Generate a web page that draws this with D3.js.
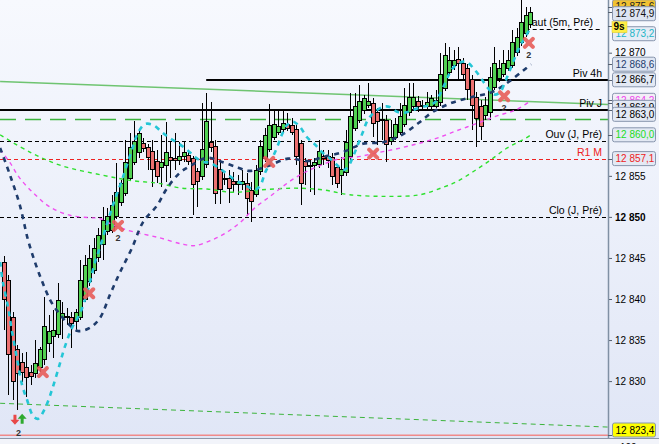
<!DOCTYPE html>
<html><head><meta charset="utf-8">
<script src="https://cdn.jsdelivr.net/npm/d3@7"></script>
<style>html,body{margin:0;padding:0;overflow:hidden;background:#fff}svg{display:block}</style>
</head><body><svg id="c" width="659" height="444"></svg>
<script>
// ---------- DATA ----------
const candleOpen = [12844.5,12842.3,12837.8,12833.9,12832.3,12831.7,12831.1,12830.9,12831.6,12832.6,12834.6,12835.4,12835.7,12837.7,12837.9,12837.8,12837.2,12837.8,12840.0,12842.1,12843.5,12845.0,12846.6,12848.2,12848.4,12850.1,12851.7,12852.9,12854.7,12856.6,12857.9,12859.0,12858.5,12858.0,12856.8,12856.0,12856.2,12857.2,12857.1,12856.9,12857.3,12857.5,12857.1,12855.5,12854.9,12856.4,12859.1,12858.6,12855.8,12854.5,12854.7,12854.3,12853.9,12854.0,12854.1,12853.2,12852.7,12855.5,12857.1,12858.2,12859.7,12860.3,12860.6,12861.2,12861.1,12860.6,12859.0,12856.7,12856.3,12856.2,12856.4,12857.4,12857.3,12857.2,12856.0,12855.1,12855.4,12857.3,12860.8,12861.8,12862.9,12863.6,12863.8,12862.7,12861.9,12861.8,12859.2,12859.7,12860.3,12861.3,12862.7,12863.4,12864.1,12863.4,12863.4,12863.4,12863.5,12863.9,12865.7,12867.6,12868.4,12869.2,12868.7,12868.1,12866.7,12864.6,12863.5,12862.3,12862.7,12865.8,12866.8,12867.4,12868.1,12868.5,12870.0,12871.2,12872.3,12873.4];
const candleHigh = [12845.2,12842.9,12838.4,12834.4,12833.4,12833.5,12832.0,12835.0,12834.2,12840.2,12838.1,12838.7,12842.0,12839.6,12838.9,12838.4,12838.8,12844.8,12845.4,12846.6,12847.4,12848.6,12851.2,12851.1,12852.7,12856.6,12854.5,12859.4,12860.2,12861.7,12860.6,12859.6,12858.9,12859.4,12858.2,12860.0,12861.6,12859.1,12860.2,12859.1,12859.1,12858.2,12857.4,12856.0,12863.9,12865.1,12864.0,12859.4,12856.9,12855.5,12855.7,12855.5,12855.1,12855.7,12855.4,12854.3,12856.3,12859.4,12860.8,12863.8,12863.0,12862.9,12862.9,12862.7,12862.0,12861.2,12859.4,12857.2,12856.9,12857.2,12859.4,12858.2,12858.2,12857.8,12856.3,12857.3,12860.6,12865.1,12865.1,12866.1,12864.9,12866.3,12864.5,12863.3,12863.9,12862.4,12861.8,12862.0,12863.9,12865.7,12866.3,12866.3,12864.7,12864.2,12865.2,12864.9,12865.5,12870.0,12871.2,12870.7,12870.3,12870.7,12869.4,12868.6,12867.3,12865.2,12864.2,12864.6,12868.3,12870.7,12869.1,12870.3,12870.3,12872.8,12873.0,12876.4,12875.6,12875.6];
const candleLow = [12836.2,12828.3,12827.7,12826.5,12829.9,12828.1,12829.5,12830.4,12831.1,12832.0,12833.5,12832.8,12835.3,12835.1,12836.8,12834.0,12836.2,12837.4,12839.6,12841.6,12843.1,12844.5,12844.8,12847.8,12848.0,12849.8,12851.3,12852.5,12854.4,12856.3,12857.2,12857.9,12855.7,12853.6,12854.1,12853.6,12854.3,12854.7,12855.7,12856.3,12856.7,12856.3,12850.2,12851.2,12854.5,12856.0,12857.9,12851.6,12851.6,12853.9,12851.7,12853.0,12852.7,12853.3,12850.1,12849.4,12852.4,12855.1,12856.7,12857.9,12859.4,12860.0,12860.2,12860.5,12860.0,12856.3,12851.4,12853.9,12853.0,12852.7,12856.0,12856.3,12856.0,12853.9,12853.5,12852.7,12855.0,12856.9,12860.5,12861.4,12862.5,12863.3,12859.7,12858.8,12859.4,12856.7,12858.8,12859.4,12860.0,12861.0,12862.3,12863.0,12862.8,12863.0,12863.0,12863.0,12863.3,12863.5,12865.3,12867.3,12867.9,12866.7,12866.7,12864.2,12860.6,12858.5,12859.4,12861.8,12861.8,12865.5,12866.4,12867.0,12867.8,12868.1,12869.6,12870.8,12871.9,12873.0];
const candleClose = [12840.0,12833.2,12829.9,12830.9,12831.1,12830.4,12830.6,12832.1,12833.8,12836.7,12836.0,12836.2,12839.8,12838.2,12837.7,12837.0,12838.4,12842.2,12844.1,12844.9,12846.2,12847.7,12849.6,12850.0,12851.4,12853.0,12854.1,12856.6,12858.4,12859.2,12860.1,12858.3,12857.2,12855.8,12854.9,12856.6,12857.9,12856.9,12856.9,12857.4,12857.9,12856.7,12853.9,12854.3,12858.2,12861.6,12858.4,12852.9,12853.3,12854.7,12853.5,12854.0,12854.3,12854.3,12852.2,12851.9,12855.6,12858.6,12859.9,12861.1,12861.3,12861.0,12861.4,12860.8,12860.3,12857.3,12854.1,12856.1,12856.1,12856.6,12858.0,12857.1,12856.9,12854.9,12854.1,12855.8,12859.1,12862.2,12863.5,12864.0,12864.4,12864.0,12861.4,12861.6,12861.7,12858.8,12859.7,12861.2,12862.2,12863.6,12864.6,12864.6,12863.4,12863.6,12863.9,12864.4,12864.2,12867.4,12869.7,12869.0,12869.0,12868.7,12867.4,12865.5,12863.6,12862.0,12861.0,12863.6,12867.0,12868.7,12868.1,12868.7,12869.0,12871.3,12871.9,12873.7,12874.5,12874.9];

const navyIdx = [-0.8,1.4,3.6,5.4,7.0,8.5,10.3,12.1,14.3,16.5,19.2,21.4,23.6,25.8,28.5,31.0,34.1,36.3,39.2,41.8,45.2,48.5,52.1,54.7,58.7,63.2,67.6,71.0,75.4,79.8,84.3,88.5,92.1,95.4,99.6,104.1,108.5,112.1,115.4,117.2];
const navyVal = [12858.4,12855.1,12851.4,12847.2,12844.4,12842.2,12839.9,12838.4,12837.0,12836.1,12836.5,12837.7,12840.5,12843.2,12846.2,12849.4,12851.4,12853.5,12855.4,12856.3,12857.2,12856.7,12856.0,12855.6,12856.2,12857.1,12856.8,12857.3,12857.9,12858.9,12859.1,12860.0,12861.4,12862.8,12863.9,12864.6,12865.2,12866.4,12867.8,12868.6];

const cyanIdx = [-0.8,-0.2,1.0,1.8,3.0,4.1,5.2,6.5,7.6,9.2,10.7,12.1,13.6,15.2,17.0,18.7,20.3,21.4,23.2,24.7,26.3,27.6,28.7,29.8,31.4,33.2,35.2,36.9,38.7,40.7,42.5,44.3,45.8,48.5,51.4,53.6,55.8,57.0,58.1,59.2,60.7,61.8,63.0,64.3,65.8,67.4,69.2,70.7,72.5,74.1,75.4,76.5,77.6,78.7,79.8,80.9,82.5,84.3,85.8,87.4,89.2,90.9,92.9,94.7,96.1,96.9,98.1,99.2,100.7,102.7,104.7,106.3,107.6,109.0,110.3,111.4,112.5,113.6,114.7,115.8,117.2];
const cyanVal = [12844.5,12842.1,12838.9,12836.2,12832.6,12829.5,12827.7,12825.8,12825.4,12826.7,12828.9,12831.4,12834.2,12836.5,12838.3,12841.1,12844.5,12846.3,12849.6,12852.1,12854.5,12856.7,12858.5,12860.2,12861.3,12861.2,12860.3,12859.6,12859.0,12858.2,12857.3,12856.7,12856.6,12855.7,12854.5,12853.9,12853.3,12853.8,12855.4,12856.6,12858.4,12860.0,12861.2,12861.6,12861.0,12859.7,12858.8,12857.9,12857.1,12856.3,12855.7,12856.1,12857.3,12858.8,12860.3,12861.8,12862.8,12863.4,12863.4,12862.8,12862.7,12863.0,12863.4,12863.6,12864.1,12864.9,12866.3,12867.6,12868.6,12868.9,12867.9,12866.7,12865.7,12864.9,12865.2,12866.4,12867.9,12869.4,12870.8,12871.8,12873.2];

const pinkIdx = [-0.8,1.4,3.6,7.0,10.3,14.7,19.2,21.4,24.7,28.7,34.3,39.6,42.5,46.3,49.2,52.5,55.8,59.2,62.5,65.8,69.2,74.7,78.5,82.9,87.4,91.9,96.3,100.7,105.2,109.6,114.1,117.2];
const pinkVal = [12858.2,12856.6,12854.7,12852.7,12851.2,12850.2,12849.9,12849.8,12848.9,12848.2,12847.5,12846.7,12846.5,12847.2,12848.0,12849.3,12851.1,12852.5,12853.9,12855.1,12856.0,12857.1,12857.3,12857.8,12858.3,12858.9,12859.6,12860.5,12861.4,12862.3,12863.1,12864.2];

const greenIdx = [-0.8,5.8,12.5,21.8,28.7,34.3,39.6,45.2,50.7,57.4,64.7,70.9,76.9,85.2,92.5,97.6,100.7,104.3,108.1,111.9,115.4,117.2];
const greenVal = [12860.0,12857.9,12856.3,12855.1,12854.4,12854.1,12853.5,12853.4,12853.0,12853.3,12853.5,12853.3,12852.7,12852.5,12852.7,12853.6,12854.3,12855.5,12856.9,12858.4,12859.4,12860.0];

const levelNames = ["Haut (5m, Pré)","Piv 4h","Piv J","Ouv (J, Pré)","R1 M","Clo (J, Pré)"];
const levelValues = [12872.9,12866.7,12863.0,12859.2,12857.1,12850.0];
const levelStartIdx = [116,45,-1,-1,-1,-1];
const greenDashLevel = 12861.9;
const lowLevel = 12823.4;
const trendIdx = [-0.8,134.3];
const trendGreenVal = [12866.5,12863.7];
const trendLowVal = [12827.3,12824.4];

const tickValues = [12830,12835,12840,12845,12850,12855,12870];
const boxValues = [12875.6,12874.9,12873.2,12868.6,12866.7,12864.2,12863.9,12863.0,12860.0,12857.1,12823.4];
const boxKinds = ["high","last","cyan","navy","piv4h","pink","trend","pivj","green","r1m","low"];
const timerText = "9s";

const crossIdx = [8.7,19.0,25.4,59.0,82.1,111.2,116.7];
const crossVal = [12831.1,12840.7,12848.9,12856.7,12857.7,12864.7,12871.2];
const crossCount = ["","","2","","","2","2"];
const signalIdx = [2.5,4.1];
const signalVal = [12825.3,12825.4];
const signalDir = ["down","up"];
const signalCount = "2";
const lowerPanelLabel = "100";

// ---------- STYLES ----------
const FONT = "'Liberation Sans', Arial, sans-serif";
const boxStyle = {
  high:{fill:"#f1c232",text:"#222"}, last:{fill:"#dde4f1",text:"#111"}, cyan:{fill:"#e6ecf6",text:"#1fb5c6"},
  navy:{fill:"#dfe6f3",text:"#1f3d6e"}, piv4h:{fill:"#e3e9f4",text:"#000"}, pink:{fill:"#f3eef7",text:"#ee44ee"},
  trend:{fill:"#e3e9f4",text:"#000"}, pivj:{fill:"#e3e9f4",text:"#000"}, green:{fill:"#e3e9f4",text:"#22dd22"},
  r1m:{fill:"#e3e9f4",text:"#ee2222"}, low:{fill:"#ffff00",text:"#000"}
};
const levelStyle = {
  "Haut (5m, Pré)":{stroke:"#000",w:1,dash:"4,3",color:"#000",end:600,labelEnd:593},
  "Piv 4h":{stroke:"#000",w:2,dash:null,color:"#000",end:608,labelEnd:602},
  "Piv J":{stroke:"#000",w:2,dash:null,color:"#000",end:608,labelEnd:602},
  "Ouv (J, Pré)":{stroke:"#000",w:1,dash:"4,3",color:"#000",end:608,labelEnd:602},
  "R1 M":{stroke:"#ee2222",w:1,dash:"4,3",color:"#ee2222",end:608,labelEnd:602},
  "Clo (J, Pré)":{stroke:"#000",w:1,dash:"4,3",color:"#000",end:608,labelEnd:602}
};

// ---------- CHART ----------
const W=659,H=444,plotR=608,plotB=437;
const svg=d3.select("#c");
const defs=svg.append("defs");
const grad=defs.append("linearGradient").attr("id","bg").attr("x1",0).attr("y1",0).attr("x2",0).attr("y2",1);
grad.append("stop").attr("offset","0%").attr("stop-color","#f7f9fe");
grad.append("stop").attr("offset","100%").attr("stop-color","#e0e6f6");
svg.append("rect").attr("width",W).attr("height",H).attr("fill","url(#bg)");
defs.append("clipPath").attr("id","clip").append("rect").attr("width",plotR).attr("height",plotB);

const x=d3.scaleLinear().domain([0,117]).range([3.7,530.2]);
const y=d3.scaleLinear().domain([12830,12870]).range([381.1,52.7]);
const plot=svg.append("g").attr("clip-path","url(#clip)");

// level lines
levelNames.forEach((n,i)=>{
  const s=levelStyle[n];
  const x0=levelStartIdx[i]<0?0:x(levelStartIdx[i]);
  const yy=Math.round(y(levelValues[i]))+(s.w===1?0.5:0);
  plot.append("line").attr("x1",x0).attr("x2",s.end).attr("y1",yy).attr("y2",yy)
    .attr("stroke",s.stroke).attr("stroke-width",s.w).attr("stroke-dasharray",s.dash);
});
{
  const yy=Math.round(y(greenDashLevel))+0.5;
  plot.append("line").attr("x1",0).attr("x2",plotR).attr("y1",yy).attr("y2",yy)
    .attr("stroke","#3cb43c").attr("stroke-width",1.3).attr("stroke-dasharray","16,9");
}
const tline=d3.line().x(d=>x(d[0])).y(d=>y(d[1]));
plot.append("path").datum(d3.zip(trendIdx,trendGreenVal)).attr("d",tline)
  .attr("stroke","#4db84d").attr("stroke-opacity",0.8).attr("stroke-width",1.5).attr("fill","none");
plot.append("path").datum(d3.zip(trendIdx,trendLowVal)).attr("d",tline)
  .attr("stroke","#3cb43c").attr("stroke-width",1).attr("stroke-dasharray","5,4").attr("fill","none");
plot.append("line").attr("x1",0).attr("x2",plotR).attr("y1",y(lowLevel)).attr("y2",y(lowLevel))
  .attr("stroke","#f08a8a").attr("stroke-width",1.5);

// level labels
levelNames.forEach((n,i)=>{
  const s=levelStyle[n];
  plot.append("text").attr("x",s.labelEnd).attr("y",y(levelValues[i])-3).attr("text-anchor","end")
    .attr("font-family",FONT).attr("font-size",10.5).attr("fill",s.color).text(n);
});

// candles
const cg=plot.append("g").attr("shape-rendering","crispEdges");
candleOpen.forEach((o,i)=>{
  const c=candleClose[i],h=candleHigh[i],l=candleLow[i];
  const cx=Math.round(x(i))+0.5;
  cg.append("line").attr("x1",cx).attr("x2",cx).attr("y1",y(h)).attr("y2",y(l)).attr("stroke","#000").attr("stroke-width",1);
  const top=y(Math.max(o,c)),bot=y(Math.min(o,c));
  cg.append("rect").attr("x",cx-2).attr("y",top).attr("width",4).attr("height",Math.max(1,bot-top))
    .attr("fill",c>=o?"#52d152":"#ec7070").attr("stroke","#000").attr("stroke-width",1);
});

// curves
function curve(idx,vals,color,w,dash){
  plot.append("path").datum(d3.zip(idx,vals)).attr("fill","none").attr("stroke",color)
    .attr("stroke-width",w).attr("stroke-dasharray",dash)
    .attr("d",d3.line().x(d=>x(d[0])).y(d=>y(d[1])).curve(d3.curveCatmullRom.alpha(0.5)));
}
curve(greenIdx,greenVal,"#2ee02e",1.4,"4,4");
curve(pinkIdx,pinkVal,"#f050f0",1.4,"4,4");
curve(navyIdx,navyVal,"#1f3c6c",2.6,"5,5");
curve(cyanIdx,cyanVal,"#25c6d6",2.6,"5,5");

// markers
crossIdx.forEach((ci,i)=>{
  const g=plot.append("g").attr("transform",`translate(${x(ci)},${y(crossVal[i])})`).attr("opacity",0.9);
  g.append("line").attr("x1",-4).attr("y1",-4).attr("x2",4).attr("y2",4).attr("stroke","#e85e5a").attr("stroke-width",4).attr("stroke-linecap","round");
  g.append("line").attr("x1",-4).attr("y1",4).attr("x2",4).attr("y2",-4).attr("stroke","#e85e5a").attr("stroke-width",4).attr("stroke-linecap","round");
  if(crossCount[i]) plot.append("text").attr("x",x(ci)).attr("y",y(crossVal[i])+15).attr("text-anchor","middle")
    .attr("font-family",FONT).attr("font-size",9).attr("font-weight","bold").attr("fill","#333").text(crossCount[i]);
});
signalIdx.forEach((si,i)=>{
  const cx=x(si),cy=y(signalVal[i]);
  const p = signalDir[i]==="down"
    ? `M${cx-1.5},${cy-5}h3v5h3l-4.5,5l-4.5,-5h3z`
    : `M${cx-1.5},${cy+5}h3v-5h3l-4.5,-5l-4.5,5h3z`;
  plot.append("path").attr("d",p).attr("fill",signalDir[i]==="down"?"#e84848":"#2faa2f");
});
plot.append("text").attr("x",x(d3.mean(signalIdx))).attr("y",y(d3.mean(signalVal))+17).attr("text-anchor","middle")
  .attr("font-family",FONT).attr("font-size",9).attr("font-weight","bold").attr("fill","#333").text(signalCount);

// lower panel
svg.append("rect").attr("x",0).attr("y",439).attr("width",W).attr("height",5).attr("fill","#f2f4fa");
svg.append("line").attr("x1",0).attr("x2",W).attr("y1",438.5).attr("y2",438.5).attr("stroke","#8d97a8").attr("stroke-width",1);
svg.append("text").attr("x",620).attr("y",451).attr("font-family",FONT).attr("font-size",10).attr("fill","#000").text(lowerPanelLabel);

// right axis
const loc=d3.formatLocale({decimal:",",thousands:" ",grouping:[3],currency:["",""]});
const fmt0=loc.format(",.0f"), fmt1=loc.format(",.1f");
const ax=svg.append("g").attr("transform",`translate(${plotR},0)`)
  .call(d3.axisRight(y).tickValues(tickValues).tickSize(4).tickPadding(3).tickFormat(fmt0));
ax.select(".domain").remove();
ax.selectAll("text").attr("font-family",FONT).attr("font-size",10).attr("fill","#000")
  .attr("font-weight",d=>d===12850?"bold":"normal");
ax.selectAll("line").attr("stroke","#55606e");
svg.append("line").attr("x1",plotR+0.5).attr("x2",plotR+0.5).attr("y1",0).attr("y2",plotB+1).attr("stroke","#8090a4").attr("stroke-width",1.5);

// price boxes with simple collision layout
const order=d3.range(boxValues.length).sort((a,b)=>boxValues[b]-boxValues[a]);
const items=[];
let prev=-Infinity;
order.forEach(k=>{
  let yy=Math.max(y(boxValues[k]),prev+7);
  yy=Math.min(yy,plotB-7);
  items.push({k,yy}); prev=yy;
  if(boxKinds[k]==="last"){ items.push({timer:true,yy:yy+13}); prev=yy+13; }
});
items.filter(d=>!d.timer).forEach(d=>{
  const st=boxStyle[boxKinds[d.k]];
  svg.append("line").attr("x1",plotR).attr("x2",plotR+4).attr("y1",Math.round(y(boxValues[d.k]))+0.5).attr("y2",Math.round(y(boxValues[d.k]))+0.5).attr("stroke","#55606e");
  svg.append("rect").attr("x",612.5).attr("y",d.yy-7).attr("width",43).attr("height",14).attr("rx",2)
    .attr("fill",st.fill).attr("stroke","#8795ad").attr("stroke-width",1);
  svg.append("text").attr("x",615.5).attr("y",d.yy+3.6).attr("font-family",FONT).attr("font-size",10)
    .attr("fill",st.text).text(fmt1(boxValues[d.k]));
});
items.filter(d=>d.timer).forEach(d=>{
  svg.append("rect").attr("x",612).attr("y",d.yy-5).attr("width",15).attr("height",11).attr("fill","#ffee44").attr("stroke","#d8c830").attr("stroke-width",0.5);
  svg.append("text").attr("x",613.5).attr("y",d.yy+3.6).attr("font-family",FONT).attr("font-size",10).attr("font-weight","bold").attr("fill","#000").text(timerText);
});
</script></body></html>
